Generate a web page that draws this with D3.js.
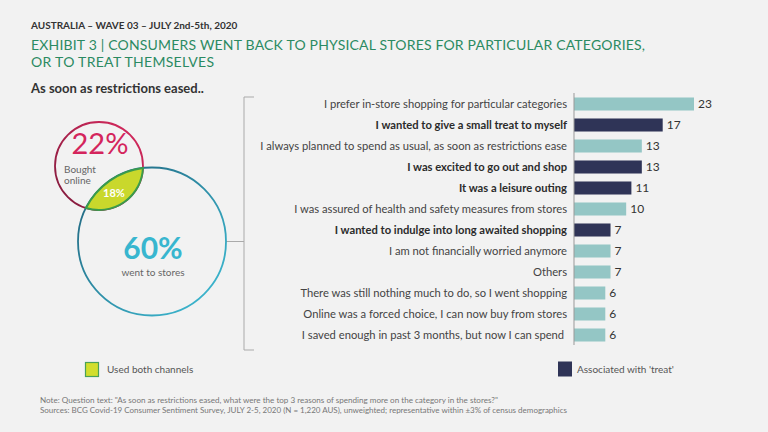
<!DOCTYPE html>
<html>
<head>
<meta charset="utf-8">
<script src="https://cdn.jsdelivr.net/npm/d3@7"></script>
<style>
  html, body { margin: 0; padding: 0; background: #f2f2f2; }
  svg { display: block; font-family: Lato, "Noto Sans", sans-serif; }
</style>
</head>
<body>
<div id="chart"></div>
<script>
(function() {
  "use strict";

  // ---- data ----
  var reasons = [
    "I prefer in-store shopping for particular categories",
    "I wanted to give a small treat to myself",
    "I always planned to spend as usual, as soon as restrictions ease",
    "I was excited to go out and shop",
    "It was a leisure outing",
    "I was assured of health and safety measures from stores",
    "I wanted to indulge into long awaited shopping",
    "I am not financially worried anymore",
    "Others",
    "There was still nothing much to do, so I went shopping",
    "Online was a forced choice, I can now buy from stores",
    "I saved enough in past 3 months, but now I can spend "
  ];
  var shares = [23, 17, 13, 13, 11, 10, 7, 7, 7, 6, 6, 6];
  var isTreat = [false, true, false, true, true, false, true, false, false, false, false, false];

  var boughtOnline = 22;
  var bothChannels = 18;
  var wentToStores = 60;

  var width = 768, height = 432;
  var svg = d3.select("#chart").append("svg")
    .attr("width", width)
    .attr("height", height);

  svg.append("rect").attr("width", width).attr("height", height).attr("fill", "#f2f2f2");

  /* ------- HEADER ------- */
  svg.append("text")
    .attr("x", 31).attr("y", 29)
    .attr("font-size", 10).attr("font-weight", "bold").attr("fill", "#333")
    .text("AUSTRALIA \u2013 WAVE 03 \u2013 JULY 2nd-5th, 2020");

  // two separate lines, slightly smaller font stretched to the reference width
  svg.append("text")
    .attr("x", 31).attr("y", 50)
    .attr("font-size", 14).attr("fill", "#2b8a62")
    .attr("textLength", 614).attr("lengthAdjust", "spacing")
    .text("EXHIBIT 3 | CONSUMERS WENT BACK TO PHYSICAL STORES FOR PARTICULAR CATEGORIES,");
  svg.append("text")
    .attr("x", 31).attr("y", 67)
    .attr("font-size", 14).attr("fill", "#2b8a62")
    .attr("textLength", 183).attr("lengthAdjust", "spacing")
    .text("OR TO TREAT THEMSELVES");

  svg.append("text")
    .attr("x", 31).attr("y", 93)
    .attr("font-size", 13).attr("font-weight", "bold").attr("fill", "#333")
    .text("As soon as restrictions eased..");

  /* ------- VENN ------- */
  var small = { cx: 99, cy: 166, r: 44 };
  var big = { cx: 152, cy: 241.5, r: 74 };

  var defs = svg.append("defs");
  var gSmall = defs.append("linearGradient").attr("id", "g-small")
    .attr("x1", "0%").attr("y1", "100%").attr("x2", "100%").attr("y2", "0%");
  gSmall.append("stop").attr("offset", "0%").attr("stop-color", "#7c1a3a");
  gSmall.append("stop").attr("offset", "100%").attr("stop-color", "#dc2a60");
  var gBig = defs.append("linearGradient").attr("id", "g-big")
    .attr("x1", "0%").attr("y1", "0%").attr("x2", "100%").attr("y2", "100%");
  gBig.append("stop").attr("offset", "0%").attr("stop-color", "#1f5f78");
  gBig.append("stop").attr("offset", "100%").attr("stop-color", "#3fc0d8");

  var venn = svg.append("g").attr("class", "venn");

  // connector from big circle to the bracket
  venn.append("line")
    .attr("x1", big.cx + big.r).attr("x2", 244)
    .attr("y1", big.cy).attr("y2", big.cy)
    .attr("stroke", "#aaa").attr("stroke-width", 1);

  venn.append("circle")
    .attr("cx", small.cx).attr("cy", small.cy).attr("r", small.r)
    .attr("fill", "none").attr("stroke", "url(#g-small)").attr("stroke-width", 1.8);
  venn.append("circle")
    .attr("cx", big.cx).attr("cy", big.cy).attr("r", big.r)
    .attr("fill", "none").attr("stroke", "url(#g-big)").attr("stroke-width", 1.8);

  // intersection points of the two circles
  var dx = big.cx - small.cx, dy = big.cy - small.cy;
  var d = Math.sqrt(dx * dx + dy * dy);
  var a = (small.r * small.r - big.r * big.r + d * d) / (2 * d);
  var h = Math.sqrt(small.r * small.r - a * a);
  var mx = small.cx + a * dx / d, my = small.cy + a * dy / d;
  var p1 = [mx + h * dy / d, my - h * dx / d];
  var p2 = [mx - h * dy / d, my + h * dx / d];

  var lens = d3.path();
  lens.moveTo(p1[0], p1[1]);
  lens.arc(small.cx, small.cy, small.r,
    Math.atan2(p1[1] - small.cy, p1[0] - small.cx),
    Math.atan2(p2[1] - small.cy, p2[0] - small.cx), false);
  lens.arc(big.cx, big.cy, big.r,
    Math.atan2(p2[1] - big.cy, p2[0] - big.cx),
    Math.atan2(p1[1] - big.cy, p1[0] - big.cx), false);
  lens.closePath();

  venn.append("path")
    .attr("d", lens.toString())
    .attr("fill", "#c9d82c").attr("stroke", "#3a9c4c").attr("stroke-width", 2);

  venn.append("text")
    .attr("x", 100).attr("y", 154).attr("text-anchor", "middle")
    .attr("font-size", 29).attr("fill", "#d4255c")
    .text(boughtOnline + "%");
  var bo = venn.append("text").attr("font-size", 10).attr("fill", "#666");
  bo.append("tspan").attr("x", 64).attr("y", 173).text("Bought");
  bo.append("tspan").attr("x", 64).attr("y", 184).text("online");

  venn.append("text")
    .attr("x", 114).attr("y", 197).attr("text-anchor", "middle")
    .attr("font-size", 11).attr("font-weight", "bold").attr("fill", "#fff")
    .text(bothChannels + "%");

  venn.append("text")
    .attr("x", 153).attr("y", 259).attr("text-anchor", "middle")
    .attr("font-size", 30).attr("font-weight", "bold").attr("fill", "#38b6cf")
    .text(wentToStores + "%");
  venn.append("text")
    .attr("x", 153).attr("y", 276).attr("text-anchor", "middle")
    .attr("font-size", 10).attr("fill", "#666")
    .text("went to stores");

  /* ------- BRACKET ------- */
  svg.append("path")
    .attr("d", "M254,97 H244 V350 H254")
    .attr("fill", "none").attr("stroke", "#aaa").attr("stroke-width", 1);

  /* ------- BARS ------- */
  var x = d3.scaleLinear().domain([0, 23]).range([574, 694]);
  var y = d3.scaleBand().domain(reasons).range([93.5, 345.5]).paddingInner(0.38).paddingOuter(0.19);

  var rows = reasons.map(function(r, i) {
    return { label: r, value: shares[i], treat: isTreat[i] };
  });

  var bars = svg.append("g").attr("class", "bars");

  bars.selectAll("rect")
    .data(rows)
    .enter()
    .append("rect")
    .attr("x", x(0))
    .attr("y", function(d) { return y(d.label); })
    .attr("width", function(d) { return x(d.value) - x(0); })
    .attr("height", y.bandwidth())
    .attr("fill", function(d) { return d.treat ? "#2f3457" : "#94c6c5"; });

  // axis line
  bars.append("line")
    .attr("x1", x(0)).attr("x2", x(0))
    .attr("y1", 93).attr("y2", 345)
    .attr("stroke", "#999").attr("stroke-width", 1);

  bars.selectAll("text.label")
    .data(rows)
    .enter()
    .append("text")
    .attr("class", "label")
    .attr("x", 567)
    .attr("y", function(d) { return y(d.label) + y.bandwidth() / 2; })
    .attr("dy", "0.35em")
    .attr("text-anchor", "end")
    .attr("font-size", 11.2)
    .attr("font-weight", function(d) { return d.treat ? "bold" : "normal"; })
    .attr("fill", function(d) { return d.treat ? "#2b2b2b" : "#444"; })
    .style("white-space", "pre")
    .text(function(d) { return d.label; });

  bars.selectAll("text.value")
    .data(rows)
    .enter()
    .append("text")
    .attr("class", "value")
    .attr("x", function(d) { return x(d.value) + 4; })
    .attr("y", function(d) { return y(d.label) + y.bandwidth() / 2; })
    .attr("dy", "0.35em")
    .attr("font-size", 12)
    .attr("fill", "#333")
    .text(function(d) { return d.value; });

  /* ------- LEGEND ------- */
  svg.append("rect")
    .attr("x", 85.5).attr("y", 362.5).attr("width", 13).attr("height", 14)
    .attr("fill", "#d2de2c").attr("stroke", "#4aa158").attr("stroke-width", 1.2);
  svg.append("text")
    .attr("x", 107).attr("y", 369.5).attr("dy", "0.35em")
    .attr("font-size", 10).attr("fill", "#555")
    .text("Used both channels");

  svg.append("rect")
    .attr("x", 558).attr("y", 361.5).attr("width", 14).attr("height", 15)
    .attr("fill", "#2f3457");
  svg.append("text")
    .attr("x", 577).attr("y", 369.5).attr("dy", "0.35em")
    .attr("font-size", 10).attr("fill", "#555")
    .text("Associated with 'treat'");

  /* ------- FOOTNOTES ------- */
  svg.append("text")
    .attr("x", 40).attr("y", 403)
    .attr("font-size", 8).attr("fill", "#777")
    .attr("textLength", 458).attr("lengthAdjust", "spacingAndGlyphs")
    .text("Note: Question text: \"As soon as restrictions eased, what were the top 3 reasons of spending more on the category in the stores?\"");
  svg.append("text")
    .attr("x", 40).attr("y", 412.5)
    .attr("font-size", 8).attr("fill", "#777")
    .attr("textLength", 527).attr("lengthAdjust", "spacingAndGlyphs")
    .text("Sources: BCG Covid-19 Consumer Sentiment Survey, JULY 2-5, 2020 (N = 1,220 AUS), unweighted; representative within \u00b13% of census demographics");
})();
</script>
</body>
</html>
